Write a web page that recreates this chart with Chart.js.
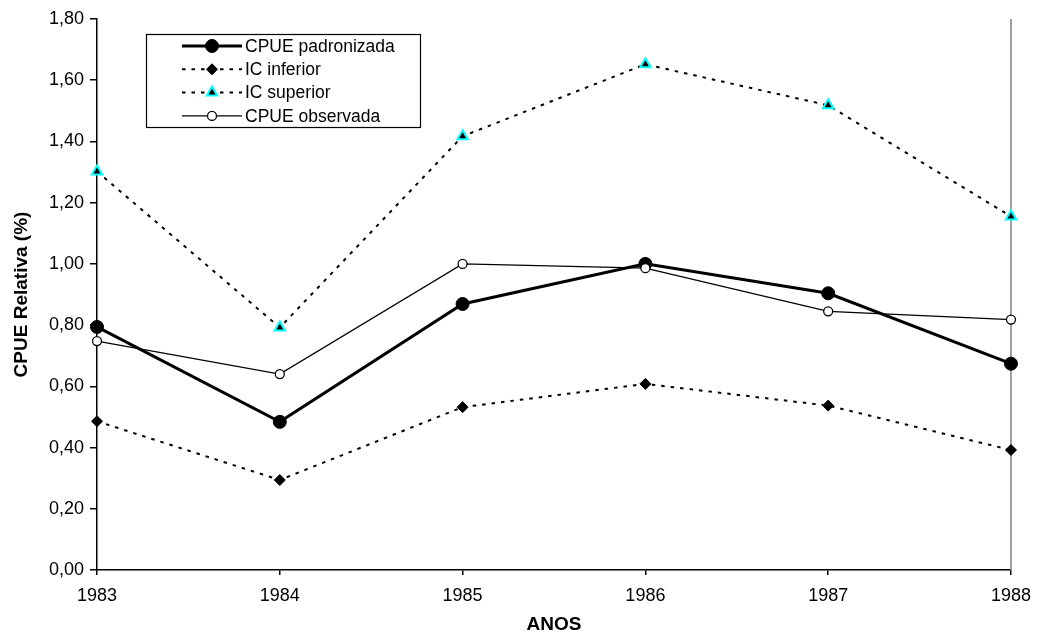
<!DOCTYPE html>
<html>
<head>
<meta charset="utf-8">
<script src="https://cdn.jsdelivr.net/npm/chart.js@4.4.1/dist/chart.umd.min.js"></script>
<style>
  html, body { margin: 0; padding: 0; background: #fff; }
  #wrap { width: 1043px; height: 634px; }
</style>
</head>
<body>
<div id="wrap"><canvas id="cpueChart" width="1043" height="634"></canvas></div>
<script>
"use strict";

const years = ["1983", "1984", "1985", "1986", "1987", "1988"];
const cpuePadronizada = [0.794, 0.484, 0.869, 1.0, 0.904, 0.674];
const icInferior = [0.486, 0.294, 0.532, 0.608, 0.537, 0.392];
const icSuperior = [1.302, 0.792, 1.417, 1.652, 1.518, 1.155];
const cpueObservada = [0.748, 0.640, 1.0, 0.986, 0.845, 0.818];
const yTickLabels = ["0,00", "0,20", "0,40", "0,60", "0,80", "1,00", "1,20", "1,40", "1,60", "1,80"];

Chart.defaults.font.family = '"Liberation Sans", Arial, sans-serif';
Chart.defaults.color = "#000";

const ctx = document.getElementById("cpueChart");

// dotted pattern used by both confidence bounds
const dotted = [3.5, 6];

// legend box drawn inside the plot, top left
const boxLegend = {
  id: "boxLegend",
  afterDraw(chart) {
    const c = chart.ctx;
    const left = 146, top = 34, right = 420, bottom = 127;
    c.save();
    c.fillStyle = "#fff";
    c.fillRect(left, top, right - left, bottom - top);
    c.strokeStyle = "#000";
    c.lineWidth = 1.2;
    c.strokeRect(left + 0.5, top + 0.5, right - left, bottom - top);

    chart.data.datasets.forEach((ds, i) => {
      const y = 46 + i * 23.3;
      c.save();
      c.strokeStyle = ds.borderColor;
      c.lineWidth = ds.borderWidth;
      c.setLineDash(ds.borderDash || []);
      c.beginPath();
      c.moveTo(182, y);
      c.lineTo(242, y);
      c.stroke();
      c.restore();

      c.save();
      c.fillStyle = ds.pointBackgroundColor;
      c.strokeStyle = ds.pointBorderColor;
      c.lineWidth = ds.pointBorderWidth;
      Chart.helpers.drawPoint(c, {
        pointStyle: ds.pointStyle,
        radius: ds.pointRadius,
        borderWidth: ds.pointBorderWidth,
        rotation: 0,
      }, 212, y);
      c.restore();

      c.fillStyle = "#000";
      c.font = '17.5px "Liberation Sans", Arial, sans-serif';
      c.textBaseline = "middle";
      c.textAlign = "left";
      c.fillText(ds.label, 245, y + 1);
    });
    c.restore();
  },
};

// grey line on the right edge of the plot
const rightEdge = {
  id: "rightEdge",
  beforeDatasetsDraw(chart) {
    const { ctx: c, chartArea } = chart;
    c.save();
    c.strokeStyle = "#808080";
    c.lineWidth = 1.5;
    c.beginPath();
    c.moveTo(chartArea.right, chartArea.top);
    c.lineTo(chartArea.right, chartArea.bottom);
    c.stroke();
    c.restore();
  },
};

new Chart(ctx, {
  type: "line",
  data: {
    labels: years,
    datasets: [
      {
        label: "CPUE padronizada",
        data: cpuePadronizada,
        borderColor: "#000",
        borderWidth: 3,
        pointStyle: "circle",
        pointRadius: 6.5,
        pointBackgroundColor: "#000",
        pointBorderColor: "#000",
        pointBorderWidth: 1,
        order: 1,
        clip: false,
      },
      {
        label: "IC inferior",
        data: icInferior,
        borderColor: "#000",
        borderWidth: 2,
        borderDash: dotted,
        pointStyle: "rectRot",
        pointRadius: 5.5,
        pointBackgroundColor: "#000",
        pointBorderColor: "#000",
        pointBorderWidth: 1,
        order: 3,
        clip: false,
      },
      {
        label: "IC superior",
        data: icSuperior,
        borderColor: "#000",
        borderWidth: 2,
        borderDash: dotted,
        pointStyle: "triangle",
        pointRadius: 6,
        pointBackgroundColor: "#000",
        pointBorderColor: "#00ffff",
        pointBorderWidth: 2,
        order: 2,
        clip: false,
      },
      {
        label: "CPUE observada",
        data: cpueObservada,
        borderColor: "#000",
        borderWidth: 1.3,
        pointStyle: "circle",
        pointRadius: 4.5,
        pointBackgroundColor: "#fff",
        pointBorderColor: "#000",
        pointBorderWidth: 1.3,
        order: 0,
        clip: false,
      },
    ],
  },
  options: {
    responsive: false,
    animation: false,
    events: [],
    layout: { padding: { top: 19, right: 26, left: 0, bottom: 0 } },
    plugins: {
      legend: { display: false },
      tooltip: { enabled: false },
    },
    elements: { line: { tension: 0 } },
    scales: {
      x: {
        type: "category",
        offset: false,
        border: { color: "#000", width: 1.5 },
        grid: {
          drawOnChartArea: false,
          drawTicks: true,
          tickLength: 5,
          color: "#000",
          lineWidth: 1.5,
        },
        ticks: {
          color: "#000",
          font: { size: 18, lineHeight: 1 },
          padding: 12,
          maxRotation: 0,
          autoSkip: false,
        },
        title: {
          display: true,
          text: "ANOS",
          color: "#000",
          font: { size: 19, weight: "bold", lineHeight: 1 },
          padding: 0,
        },
        afterFit(scale) {
          scale.height = 64;
        },
      },
      y: {
        min: 0,
        max: 1.8,
        border: { color: "#000", width: 1.5 },
        grid: {
          drawOnChartArea: false,
          drawTicks: true,
          tickLength: 7,
          color: "#000",
          lineWidth: 1.5,
        },
        ticks: {
          stepSize: 0.2,
          color: "#000",
          font: { size: 18, lineHeight: 1 },
          padding: 6,
          callback: (value) => yTickLabels[Math.round(value / 0.2)],
        },
        title: {
          display: true,
          text: "CPUE Relativa (%)",
          color: "#000",
          font: { size: 19, weight: "bold", lineHeight: 1 },
          padding: { top: 12, bottom: 0 },
        },
        afterFit(scale) {
          scale.width = 97;
        },
      },
    },
  },
  plugins: [rightEdge, boxLegend],
});
</script>
</body>
</html>
